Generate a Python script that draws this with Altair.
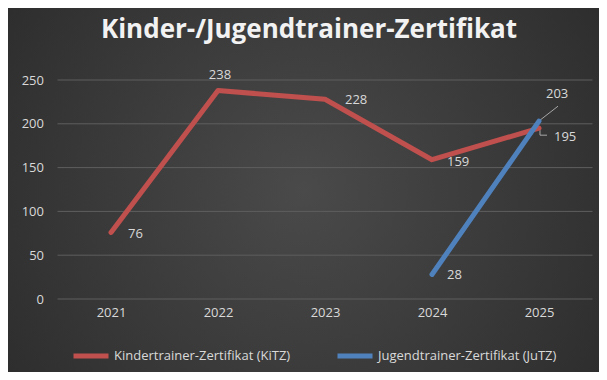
import altair as alt
import pandas as pd

years = ["2021", "2022", "2023", "2024", "2025"]
kitz = [76, 238, 228, 159, 195]
jutz_years = ["2024", "2025"]
jutz = [28, 203]
y_ticks = [0, 50, 100, 150, 200, 250]
s_kitz = "Kindertrainer-Zertifikat (KiTZ)"
s_jutz = "Jugendtrainer-Zertifikat (JuTZ)"
title_text = "Kinder-/Jugendtrainer-Zertifikat"

rows = [{"year": y, "value": v, "series": s_kitz} for y, v in zip(years, kitz)]
rows += [{"year": y, "value": v, "series": s_jutz} for y, v in zip(jutz_years, jutz)]
df = pd.DataFrame(rows)

W, H = 535, 219
PL, PT, PR, PB = 49.5, 72, 6.5, 73
FONT = "Open Sans"
LBL = "#d9d9d9"
LEAD = "#a6a6a6"

xscale = alt.Scale(type="point", padding=0.5, domain=years)
yscale = alt.Scale(domain=[0, 250], nice=False)

bg = alt.Chart(pd.DataFrame({"a": [0]})).mark_rect(
    fill=alt.RadialGradient(
        gradient="radial", x1=0.5, y1=0.5, x2=0.5, y2=0.5, r1=0, r2=0.75,
        stops=[alt.GradientStop(offset=0, color="#4a4a4a"),
               alt.GradientStop(offset=1, color="#262626")]),
).encode(x=alt.value(-PL), x2=alt.value(W + PR), y=alt.value(-PT), y2=alt.value(H + PB))

grid = alt.Chart(pd.DataFrame({"value": y_ticks})).mark_rule(color="#5e5e5e", strokeWidth=1).encode(
    y=alt.Y("value:Q", scale=yscale), x=alt.value(0), x2=alt.value(W))

base = alt.Chart(df)
xenc = alt.X("year:O", scale=xscale,
             axis=alt.Axis(title=None, labelAngle=0, labelAlign="center", grid=False, ticks=False,
                           domain=False, zindex=1, bandPosition=0,
                           labelPadding=13, labelColor=LBL, labelFontSize=13, labelFont=FONT))
yenc = alt.Y("value:Q", scale=yscale,
             axis=alt.Axis(title=None, values=y_ticks, ticks=False, domain=False, zindex=1,
                           grid=False, labelPadding=14,
                           labelColor=LBL, labelFontSize=13, labelFont=FONT))

lines = base.mark_line(strokeWidth=5, strokeCap="round", strokeJoin="round").encode(
    x=xenc, y=yenc,
    color=alt.Color("series:N", scale=alt.Scale(domain=[s_kitz, s_jutz], range=["#c0504d", "#4f81bd"]),
                    legend=alt.Legend(title=None, orient="none", legendX=13.5, legendY=256,
                                      direction="horizontal", symbolType="stroke", symbolStrokeWidth=5,
                                      symbolSize=1225, labelColor=LBL, labelFontSize=13, labelFont=FONT,
                                      labelOffset=3, columnPadding=36, padding=0, labelLimit=400,
                                      zindex=1)),
    detail="series:N",
)

def pick(series, year):
    return (alt.datum.series == series) & (alt.datum.year == year)

def lab(filt, dx, dy, align="left"):
    return base.transform_filter(filt).mark_text(
        align=align, baseline="middle", dx=dx, dy=dy, color=LBL, fontSize=13, font=FONT
    ).encode(x=alt.X("year:O", scale=xscale),
             y=alt.Y("value:Q", scale=yscale), text="value:Q")

def leader(filt, xo, yo, x2o, y2o):
    return base.transform_filter(filt).mark_rule(
        color=LEAD, strokeWidth=1, xOffset=xo, yOffset=yo, x2Offset=x2o, y2Offset=y2o
    ).encode(x=alt.X("year:O", scale=xscale), x2="year:O",
             y=alt.Y("value:Q", scale=yscale), y2="value:Q")

leaders = [
    leader(pick(s_jutz, "2025"), 1, -1, 19, -15),
    leader(pick(s_kitz, "2025"), 1, 2, 1, 7),
    leader(pick(s_kitz, "2025"), 1, 7, 8, 7),
]

labels = [
    lab(pick(s_kitz, "2021"), 17, 2),
    lab(pick(s_kitz, "2022"), 2, -16, "center"),
    lab(pick(s_kitz, "2023"), 20, 1),
    lab(pick(s_kitz, "2024"), 15, 2),
    lab(pick(s_kitz, "2025"), 15, 9),
    lab(pick(s_jutz, "2024"), 15, 1),
    lab(pick(s_jutz, "2025"), 7, -27),
]

title = alt.Chart(pd.DataFrame({"t": [title_text]})).mark_text(
    align="center", baseline="alphabetic", fontSize=26, fontWeight="bold", font=FONT, color="#f2f2f2"
).encode(x=alt.value(309 - 57.5), y=alt.value(38 - 80), text="t:N")

chart = alt.layer(bg, grid, *leaders, lines, *labels, title).properties(
    width=W, height=H, autosize=alt.AutoSizeParams(type="none"),
    padding={"left": PL, "top": PT, "right": PR, "bottom": PB},
).configure_view(stroke=None).configure(background="#333333").configure_axis(zindex=1)

chart.save("out.html", embed_options={"renderer": "svg", "actions": False})
